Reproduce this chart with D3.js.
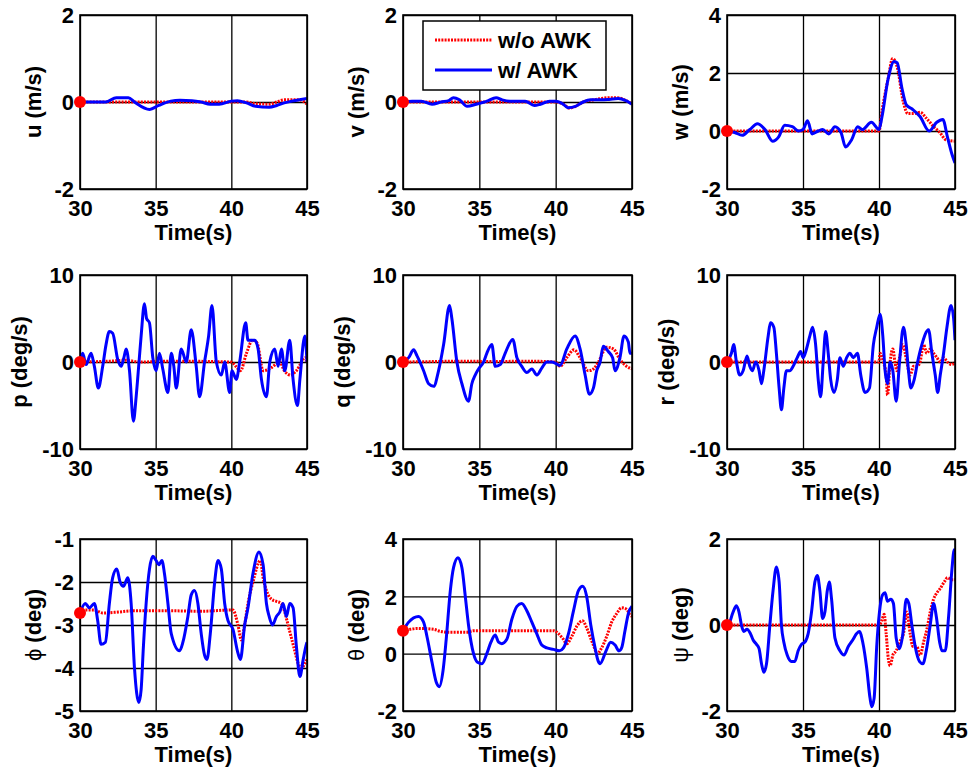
<!DOCTYPE html>
<html>
<head>
<meta charset="utf-8">
<script src="https://cdn.jsdelivr.net/npm/d3@7"></script>
<style>
body { margin: 0; background: #fff; }
svg text { font-family: "Liberation Sans", Arial, sans-serif; font-weight: bold; fill: #000; }
</style>
</head>
<body>
<div id="chart"></div>
<script>
// time axis
const timeTicks = [30, 35, 40, 45];

// [time, value] pairs
const uWithout = [[30,0],[41,0],[41.6,-0.04],[42.5,-0.05],[43,0],[43.5,0.05],[44.5,0.05],[45,-0.05]];
const uWith = [[30,0],[31.7,0],[32.4,0.1],[33.2,0.1],[33.6,0],[34.6,-0.17],[35.2,-0.08],[36,0.02],[36.6,0.04],[37.4,0.03],[38,0],[38.6,-0.05],[39.2,-0.05],[40,0.02],[40.4,0.03],[41,-0.02],[41.6,-0.1],[42.5,-0.12],[43,-0.08],[43.5,-0.02],[44,0.02],[44.5,0.05],[45,0.08]];

const vWithout = [[30,0],[40,0],[40.5,-0.05],[40.9,-0.14],[41.3,-0.1],[41.8,0],[42.5,0.05],[43,0.08],[43.5,0.1],[44,0.1],[44.5,0.05],[45,-0.05]];
const vWith = [[30,0],[30.6,0.02],[31.2,0.02],[31.9,-0.05],[32.5,0],[33,0.03],[33.3,0.1],[33.7,0.05],[34.2,-0.1],[34.8,-0.05],[35.5,0.02],[36.1,0.1],[36.5,0.05],[37,0.02],[38,0.02],[38.6,-0.08],[39,-0.05],[39.6,0.02],[40,0.02],[40.5,-0.05],[40.8,-0.13],[41.3,-0.1],[41.8,0],[42.3,0.05],[43,0.05],[43.5,0.06],[44.1,0.08],[44.6,0.03],[45,-0.05]];

const wWithout = [[30,0],[40,0],[40.2,0.7],[40.6,1.8],[40.9,2.5],[41.2,2.2],[41.6,1.0],[41.9,0.6],[42.3,0.6],[42.7,0.65],[43.1,0.45],[43.6,0.15],[44,-0.05],[44.4,-0.3],[45,-0.35]];
const wWith = [[30,0],[30.5,-0.05],[31,-0.15],[31.5,0.05],[32,0.25],[32.5,0.05],[33,-0.35],[33.4,-0.2],[33.8,0.2],[34.3,0.15],[34.7,0],[35,0.05],[35.3,0.35],[35.6,-0.1],[36,0],[36.3,0.05],[36.7,-0.1],[37.1,0.15],[37.5,-0.05],[37.8,-0.55],[38.2,-0.3],[38.6,0.15],[38.9,0.05],[39.5,0.3],[40,0.05],[40.2,0.5],[40.6,1.8],[41,2.4],[41.2,2.35],[41.5,1.5],[41.8,0.9],[42.2,0.75],[42.7,0.5],[43.3,0],[43.8,0.3],[44.2,0.4],[44.5,-0.2],[44.8,-0.8],[45,-1.1]];

const pWithout = [[30,0],[32,0.1],[33,0.2],[34,0],[36,0.1],[40,0],[40.3,-0.5],[40.6,-1],[41,1],[41.4,2.5],[41.7,2.2],[42.1,-1],[42.6,-0.7],[43.2,0],[43.5,-1],[43.9,-1.5],[44.3,-1],[44.9,0.5],[45,0]];
const pWith = [[30,0],[30.18,1],[30.4,-0.3],[30.73,1],[30.95,-0.5],[31.21,-3],[31.5,-0.5],[31.72,2],[31.94,3.5],[32.16,3.3],[32.49,0.3],[32.72,-0.5],[32.9,0.5],[33.05,1.5],[33.27,-1],[33.53,-6.8],[33.71,-4],[33.9,0],[34.04,3],[34.26,6.7],[34.4,5],[34.59,4.5],[34.81,0.5],[35.03,-1],[35.25,1],[35.47,-0.8],[35.81,-3.5],[36.03,1],[36.2,-0.5],[36.36,-3],[36.69,1.5],[37.02,0],[37.35,3.7],[37.68,-0.5],[37.9,-4],[38.23,0],[38.5,3],[38.72,6.5],[39.01,0],[39.34,-1.5],[39.56,0],[39.89,-3.5],[40.04,-1],[40.33,-2],[40.55,0],[40.95,4.5],[41.1,2.5],[41.55,2.5],[41.77,1.5],[41.99,-2],[42.32,-4],[42.54,0],[42.87,1.5],[43.09,-0.5],[43.31,1.5],[43.53,-1],[43.86,2.5],[44.08,-2],[44.37,-5],[44.53,-2],[44.86,3],[45,0]];

const qWithout = [[30,0],[32,0.05],[34,0.1],[36,0.05],[38,0.1],[40,0],[40.29,-0.5],[40.73,0.5],[41.2,1.4],[41.6,0.5],[42.14,-1],[42.47,-0.8],[42.8,0],[43.34,1.7],[43.78,1.5],[44.21,0.3],[44.65,-0.5],[45,-0.8]];
const qWith = [[30,0],[30.37,0.5],[30.7,1.4],[30.92,0.7],[31.35,-1],[31.68,-2.5],[32.01,-2.8],[32.33,-1],[32.66,2],[33.05,6.5],[33.2,5],[33.53,0],[33.86,-2.5],[34.29,-4.5],[34.51,-2.5],[34.73,-1.5],[34.95,-0.8],[35.28,0],[35.49,1],[35.82,2],[36.04,-0.5],[36.37,-0.3],[36.69,1],[37.19,2.6],[37.46,0.5],[37.78,-0.5],[38.11,-1.2],[38.44,-0.8],[38.77,-1.5],[39.09,-0.7],[39.42,0],[39.75,0],[40.03,-0.2],[40.29,-0.4],[40.73,1.5],[41.27,3],[41.6,1.5],[41.93,-1.5],[42.21,-3.7],[42.47,-3],[42.69,-1],[42.91,0],[43.12,1.8],[43.45,1.2],[43.73,0.5],[43.89,-1],[44.21,0.5],[44.48,3],[44.76,2.3],[44.87,1],[45,1]];

const rWithout = [[30,0],[40,0],[40.07,1],[40.29,0],[40.47,-1.5],[40.56,-3.8],[40.73,0],[40.91,1.5],[41.05,0],[41.17,-1],[41.35,0.5],[41.57,2],[41.83,0],[42.05,-1.5],[42.27,-0.5],[42.49,-0.5],[42.7,0],[42.93,2],[43.15,1],[43.37,1.5],[43.6,1],[43.81,0.5],[44.03,0],[44.25,0.5],[44.5,0],[44.8,-0.3],[45,0]];
const rWith = [[30,0],[30.29,1],[30.44,2],[30.62,0],[30.84,-1.5],[31.06,-1],[31.32,0.7],[31.5,-0.5],[31.67,-1],[31.89,0],[32.11,-1],[32.27,-2.5],[32.42,-1],[32.71,3],[32.86,4.5],[33.08,4],[33.25,1],[33.43,-3],[33.58,-5.5],[33.74,-3],[33.91,-1],[34.13,-1],[34.35,-0.5],[34.62,0.5],[34.84,1.2],[35.01,0.5],[35.23,1.5],[35.45,3],[35.63,4],[35.83,2],[36,-2],[36.16,-4],[36.33,0],[36.49,3.5],[36.66,1],[36.82,-2],[37.04,-3.5],[37.26,-2],[37.43,0.5],[37.65,-0.5],[37.87,0.5],[38.09,1],[38.31,0.5],[38.58,1],[38.8,-1.5],[39.08,-3.5],[39.37,-3],[39.63,2],[39.85,4],[40.07,5.5],[40.25,3],[40.4,-1],[40.56,-2.5],[40.73,0],[40.91,-1],[41.13,-4.5],[41.35,0],[41.61,4],[41.79,2],[41.94,-1],[42.1,-3],[42.32,-2],[42.54,0],[42.82,2],[43.26,3.7],[43.48,1],[43.7,-1.5],[43.86,-3.5],[44.03,-1.5],[44.25,1],[44.47,4],[44.74,6.5],[44.91,5],[45,2.5]];

const phiWithout = [[30,-2.72],[30.3,-2.65],[30.9,-2.65],[31.5,-2.72],[32.5,-2.7],[33.5,-2.67],[36,-2.67],[38,-2.68],[40.1,-2.65],[40.44,-3.0],[40.66,-3.35],[40.88,-3.0],[41.1,-2.5],[41.43,-2.0],[41.92,-1.5],[42.1,-1.9],[42.32,-2.2],[42.65,-2.4],[42.98,-2.45],[43.31,-2.5],[43.53,-2.7],[43.75,-3.0],[43.97,-3.3],[44.19,-3.6],[44.42,-3.9],[44.64,-4.0],[44.86,-3.9],[45,-3.8]];
const phiWith = [[30,-2.72],[30.35,-2.5],[30.62,-2.6],[30.95,-2.5],[31.17,-2.9],[31.39,-3.45],[31.68,-3.4],[31.94,-2.5],[32.16,-1.9],[32.43,-1.7],[32.65,-2.0],[32.87,-2.1],[33.16,-1.9],[33.38,-2.5],[33.6,-4],[33.89,-4.8],[34.04,-4.5],[34.19,-3.5],[34.37,-2.5],[34.59,-1.7],[34.81,-1.4],[35.03,-1.5],[35.21,-1.6],[35.41,-1.5],[35.58,-1.8],[35.81,-2.5],[36.03,-3.2],[36.58,-3.6],[36.8,-3.4],[37.13,-2.8],[37.35,-2.3],[37.57,-2.2],[37.79,-2.5],[38.01,-3.2],[38.23,-3.7],[38.39,-3.8],[38.61,-3.2],[38.9,-2.0],[39.12,-1.5],[39.34,-1.7],[39.56,-2.5],[39.78,-2.9],[40.11,-3.1],[40.4,-3.6],[40.6,-3.8],[40.88,-3.0],[41.1,-2.6],[41.43,-1.8],[41.83,-1.3],[42.1,-1.6],[42.32,-2.5],[42.5,-2.8],[42.72,-3.0],[42.98,-2.8],[43.2,-2.7],[43.42,-2.5],[43.64,-2.8],[43.86,-2.5],[44.08,-2.6],[44.3,-3.5],[44.53,-4.2],[44.75,-3.8],[44.92,-3.5],[45,-3.4]];

const thetaWithout = [[30,0.8],[30.48,0.85],[30.92,0.88],[32,0.85],[32.44,0.78],[32.88,0.75],[34.19,0.75],[34.62,0.8],[39.86,0.8],[40.18,0.7],[40.51,0.5],[40.73,0.35],[41.05,0.6],[41.38,0.95],[41.75,1.15],[42.03,0.9],[42.25,0.6],[42.47,0.3],[42.73,0],[43.01,0.2],[43.34,0.6],[43.67,1.1],[44,1.4],[44.32,1.6],[44.65,1.55],[44.87,1.35],[45,1.3]];
const thetaWith = [[30,0.8],[30.37,1.1],[31.02,1.3],[31.35,1.1],[31.57,0.6],[31.9,-0.3],[32.18,-1.0],[32.38,-1.15],[32.62,-0.6],[32.83,0.5],[33.1,2.2],[33.31,3.0],[33.6,3.35],[33.86,3.0],[34.08,2.0],[34.29,1.0],[34.62,0],[34.88,-0.3],[35.17,-0.35],[35.49,0],[35.76,0.4],[36.04,0.65],[36.26,0.4],[36.47,0.35],[36.8,0.5],[37.13,1.2],[37.46,1.65],[37.78,1.75],[38.11,1.5],[38.44,1.1],[38.76,0.7],[39.09,0.3],[39.42,0.2],[39.86,0.15],[40.25,0.1],[40.51,0.2],[40.84,0.7],[41.17,1.5],[41.49,2.2],[41.77,2.35],[42.03,2.0],[42.3,1.0],[42.58,0.2],[42.78,-0.25],[42.91,-0.35],[43.3,0.1],[43.6,0.4],[43.89,0.3],[44.15,0.1],[44.32,0.2],[44.54,0.8],[44.76,1.4],[45,1.65]];

const psiWithout = [[30,0],[40.03,0],[40.18,0.1],[40.34,0.25],[40.47,-0.2],[40.62,-0.8],[40.73,-0.95],[40.91,-0.7],[41.13,-0.6],[41.35,-0.4],[41.61,-0.2],[41.83,0.3],[42.05,-0.2],[42.23,-0.5],[42.49,-0.5],[42.71,-0.7],[42.93,-0.4],[43.15,-0.1],[43.37,0.3],[43.59,0.6],[43.81,0.75],[44.03,0.85],[44.29,1.0],[44.51,1.1],[44.8,1.05],[45,1.05]];
const psiWith = [[30,0],[30.07,0],[30.4,0.3],[30.62,0.45],[30.79,0.3],[30.95,0],[31.1,-0.15],[31.32,-0.1],[31.54,-0.2],[31.72,-0.35],[31.94,-0.45],[32.11,-0.55],[32.27,-0.9],[32.42,-1.1],[32.6,-0.9],[32.82,0],[33.03,0.8],[33.25,1.35],[33.43,1.0],[33.58,0],[33.74,-0.4],[33.96,-0.7],[34.24,-0.85],[34.46,-0.85],[34.68,-0.6],[34.9,-0.45],[35.12,-0.4],[35.34,-0.2],[35.56,0.3],[35.78,1.0],[35.94,1.15],[36.11,0.8],[36.29,0.15],[36.44,0.3],[36.6,0.8],[36.73,1.0],[36.88,0.6],[37.1,-0.3],[37.43,-0.6],[37.7,-0.7],[37.98,-0.5],[38.27,-0.35],[38.53,-0.2],[38.71,-0.15],[38.93,-0.4],[39.19,-1.0],[39.41,-1.7],[39.52,-1.9],[39.68,-1.7],[39.85,-0.5],[40.03,0.3],[40.23,0.7],[40.4,0.75],[40.56,0.55],[40.78,0.6],[40.95,0.5],[41.13,-0.3],[41.35,-0.55],[41.57,-0.2],[41.79,0.6],[41.96,0.5],[42.16,0],[42.38,-0.5],[42.67,-0.85],[42.89,-0.9],[43.11,-0.6],[43.37,0],[43.59,0.5],[43.77,0.2],[43.99,-0.4],[44.14,-0.6],[44.36,-0.6],[44.58,0.2],[44.8,1.3],[44.95,1.75],[45,1.7]];

const legendLabels = ["w/o AWK", "w/ AWK"];

const panels = [
    {sym: "u", unit: "(m/s)", yDomain: [-2, 2], yTicks: [-2, 0, 2], without: uWithout, withAwk: uWith},
    {sym: "v", unit: "(m/s)", yDomain: [-2, 2], yTicks: [-2, 0, 2], without: vWithout, withAwk: vWith},
    {sym: "w", unit: "(m/s)", yDomain: [-2, 4], yTicks: [-2, 0, 2, 4], without: wWithout, withAwk: wWith},
    {sym: "p", unit: "(deg/s)", yDomain: [-10, 10], yTicks: [-10, 0, 10], without: pWithout, withAwk: pWith},
    {sym: "q", unit: "(deg/s)", yDomain: [-10, 10], yTicks: [-10, 0, 10], without: qWithout, withAwk: qWith},
    {sym: "r", unit: "(deg/s)", yDomain: [-10, 10], yTicks: [-10, 0, 10], without: rWithout, withAwk: rWith},
    {sym: "ϕ", greek: true, unit: "(deg)", yDomain: [-5, -1], yTicks: [-5, -4, -3, -2, -1], without: phiWithout, withAwk: phiWith},
    {sym: "θ", greek: true, unit: "(deg)", yDomain: [-2, 4], yTicks: [-2, 0, 2, 4], without: thetaWithout, withAwk: thetaWith},
    {sym: "ψ", greek: true, unit: "(deg)", yDomain: [-2, 2], yTicks: [-2, 0, 2], without: psiWithout, withAwk: psiWith}
];

// layout of the 3x3 grid of axes
const colX = [[80, 307], [403, 632], [727, 955]];
const rowY = [[15, 189], [275, 449], [539, 711]];
const yLabelGap = [39, 53, 39];

const svg = d3.select("#chart").append("svg")
    .attr("width", 973)
    .attr("height", 770);

panels.forEach((p, i) => {
    const col = i % 3, row = Math.floor(i / 3);
    const [x0, x1] = colX[col];
    const [y0, y1] = rowY[row];

    const x = d3.scaleLinear().domain([30, 45]).range([x0, x1]);
    const y = d3.scaleLinear().domain(p.yDomain).range([y1, y0]);

    const g = svg.append("g");

    // x grid + tick labels
    const xg = g.append("g")
        .attr("transform", `translate(0,${y1})`)
        .call(d3.axisBottom(x).tickValues(timeTicks).tickSize(-(y1 - y0)).tickPadding(11));
    xg.select(".domain").remove();

    // y grid + tick labels (plain hyphen minus like the original)
    const yg = g.append("g")
        .attr("transform", `translate(${x0},0)`)
        .call(d3.axisLeft(y).tickValues(p.yTicks).tickSize(-(x1 - x0)).tickPadding(6)
            .tickFormat(d => String(d)));
    yg.select(".domain").remove();
    yg.selectAll(".tick text").attr("dy", "0.36em");

    g.selectAll(".tick line").attr("stroke", "#000").attr("stroke-width", 1.3);
    g.selectAll(".tick text")
        .attr("font-size", 22)
        .attr("font-family", "Liberation Sans, Arial, sans-serif")
        .attr("font-weight", "bold")
        .attr("fill", "#000");

    const clipId = `clip${i}`;
    g.append("clipPath").attr("id", clipId)
        .append("rect")
        .attr("x", x0).attr("y", y0 - 2)
        .attr("width", x1 - x0).attr("height", y1 - y0 + 4);

    const line = d3.line()
        .x(d => x(d[0]))
        .y(d => y(d[1]))
        .curve(d3.curveMonotoneX);

    g.append("path")
        .datum(p.without)
        .attr("clip-path", `url(#${clipId})`)
        .attr("fill", "none")
        .attr("stroke", "#ff0000")
        .attr("stroke-width", 3)
        .attr("stroke-dasharray", "2,1.2")
        .attr("d", line);

    g.append("path")
        .datum(p.withAwk)
        .attr("clip-path", `url(#${clipId})`)
        .attr("fill", "none")
        .attr("stroke", "#0000ff")
        .attr("stroke-width", 3)
        .attr("stroke-linejoin", "round")
        .attr("d", line);

    // box
    g.append("rect")
        .attr("x", x0).attr("y", y0)
        .attr("width", x1 - x0).attr("height", y1 - y0)
        .attr("fill", "none")
        .attr("stroke", "#000")
        .attr("stroke-width", 1.6);

    // start marker
    g.append("circle")
        .attr("cx", x(p.without[0][0]))
        .attr("cy", y(p.without[0][1]))
        .attr("r", 6)
        .attr("fill", "#ff0000");

    // axis labels
    g.append("text")
        .attr("x", (x0 + x1) / 2)
        .attr("y", y1 + 51)
        .attr("text-anchor", "middle")
        .attr("font-size", 22)
        .text("Time(s)");

    const yl = g.append("text")
        .attr("transform", `translate(${x0 - yLabelGap[row]},${(y0 + y1) / 2}) rotate(-90)`)
        .attr("text-anchor", "middle")
        .attr("font-size", 22);
    yl.append("tspan")
        .attr("font-weight", p.greek ? "normal" : "bold")
        .text(p.sym);
    yl.append("tspan").text((p.greek ? "  " : " ") + p.unit);

    // legend in the v panel
    if (i === 1) {
        const lg = g.append("g").attr("transform", `translate(${x0 + 20},${y0 + 6})`);
        lg.append("rect")
            .attr("width", 183).attr("height", 69)
            .attr("fill", "#fff")
            .attr("stroke", "#000")
            .attr("stroke-width", 1.5);
        legendLabels.forEach((lab, k) => {
            const ly = 19 + k * 30;
            lg.append("line")
                .attr("x1", 12).attr("x2", 69)
                .attr("y1", ly).attr("y2", ly)
                .attr("stroke", k === 0 ? "#ff0000" : "#0000ff")
                .attr("stroke-width", 3)
                .attr("stroke-dasharray", k === 0 ? "2,1.2" : null);
            lg.append("text")
                .attr("x", 75).attr("y", ly + 8)
                .attr("font-size", 22)
                .text(lab);
        });
    }
});
</script>
</body>
</html>
